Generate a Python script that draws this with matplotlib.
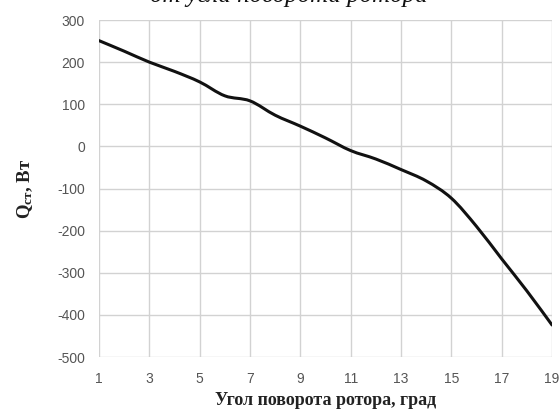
import matplotlib
matplotlib.use("Agg")
import matplotlib.pyplot as plt
import numpy as np
from matplotlib.path import Path
from matplotlib.patches import PathPatch

# angle of rotor rotation, deg
angle = [1, 2, 3, 4, 5, 6, 7, 8, 9, 10, 11, 12, 13, 14, 15, 16, 17, 18, 19]
# Q_st, W
q_st = [251, 226, 200, 178, 153, 120, 108, 74, 48, 20, -10, -30, -55, -82,
        -123, -190, -267, -343, -424]

x_ticks = [1, 3, 5, 7, 9, 11, 13, 15, 17, 19]
y_ticks = [300, 200, 100, 0, -100, -200, -300, -400, -500]

plt.rcParams['mathtext.fontset'] = 'custom'
plt.rcParams['mathtext.rm'] = 'Liberation Serif:bold'
plt.rcParams['mathtext.bf'] = 'Liberation Serif:bold'
plt.rcParams['axes.unicode_minus'] = False


def smooth_path(x, y, t=1 / 6):
    # excel-like smoothed line: catmull-rom segments as bezier curves
    x = np.asarray(x, float)
    y = np.asarray(y, float)
    verts = [(x[0], y[0])]
    codes = [Path.MOVETO]
    n = len(x)
    for i in range(n - 1):
        p0 = (x[max(i - 1, 0)], y[max(i - 1, 0)])
        p1 = (x[i], y[i])
        p2 = (x[i + 1], y[i + 1])
        p3 = (x[min(i + 2, n - 1)], y[min(i + 2, n - 1)])
        c1 = (p1[0] + (p2[0] - p0[0]) * t, p1[1] + (p2[1] - p0[1]) * t)
        c2 = (p2[0] - (p3[0] - p1[0]) * t, p2[1] - (p3[1] - p1[1]) * t)
        verts += [c1, c2, p2]
        codes += [Path.CURVE4] * 3
    return Path(verts, codes)


fig = plt.figure(figsize=(5.59, 4.11), dpi=100)
ax = fig.add_axes([99 / 559, 1 - 357 / 411, 453 / 559, 337 / 411])

ax.add_patch(PathPatch(smooth_path(angle, q_st), fill=False,
                       edgecolor="#111111", lw=2.2, capstyle="round",
                       joinstyle="round", zorder=3))

ax.set_xlim(1, 19)
ax.set_ylim(-500, 300)
ax.set_xticks(x_ticks)
ax.set_yticks(y_ticks)
ax.grid(True, color="#d2d2d2", lw=1.0)
for s in ax.spines.values():
    s.set_visible(False)
ax.tick_params(axis="both", length=0, labelsize=10, labelcolor="#555555")
ax.tick_params(axis="y", pad=10)
ax.tick_params(axis="x", pad=11)
for lbl in ax.get_xticklabels() + ax.get_yticklabels():
    lbl.set_family("Liberation Sans")

ax.set_xlabel("Угол поворота ротора, град", family="Liberation Serif",
              fontweight="bold", fontsize=13, color="#222222", labelpad=4)
ax.set_ylabel(r"$\mathrm{Q_{ст}}$, Вт", family="Liberation Serif",
              fontweight="bold", fontsize=13.5, color="#222222", labelpad=16)

fig.text(428 / 559, 1 - 2 / 411, "от угла поворота ротора",
         family="Liberation Serif", style="italic", fontsize=18,
         ha="right", va="baseline", color="#111111")

fig.savefig("out.png", dpi=100)
